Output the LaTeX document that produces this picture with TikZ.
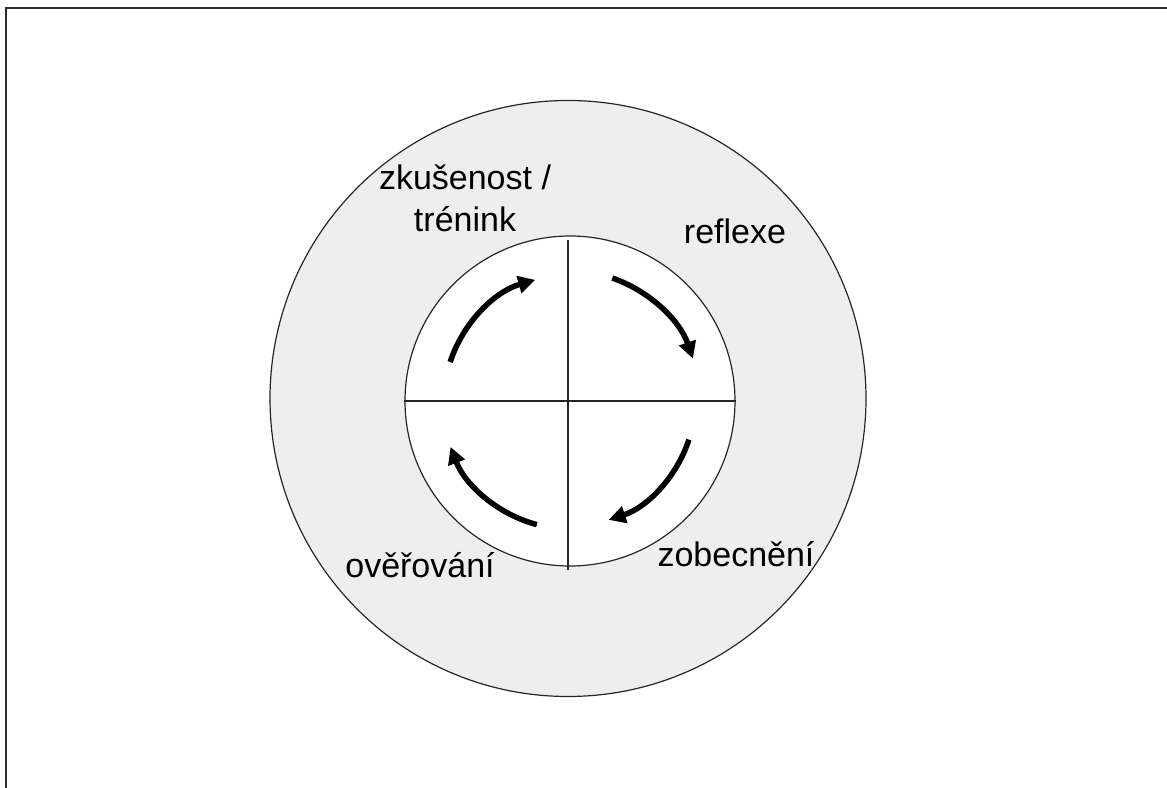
\documentclass[tikz,border=0pt]{standalone}
\usepackage{fontspec}
\setmainfont{Liberation Sans}
\usetikzlibrary{arrows.meta,calc}
\definecolor{ringgray}{RGB}{238,238,238}
\definecolor{framegray}{RGB}{45,45,45}
\begin{document}
\begin{tikzpicture}[x=1pt,y=1pt,
  lbl/.style={font=\fontsize{34}{40}\selectfont, inner sep=0pt, anchor=base},
  cyc/.style={line width=5.5pt, -{Triangle[length=17pt,width=17pt]}},
  ringline/.style={draw=black!85, line width=1.2pt}]
\useasboundingbox (0,0) rectangle (1167,787);
% frame
\draw[framegray, line width=2.5pt] (6,-5) -- (6,779) -- (1175,779);
% outer ring
\node[circle, minimum size=596pt, inner sep=0pt, fill=ringgray, ringline] (outer) at (568,388.5) {};
% inner disc
\node[circle, minimum size=330pt, inner sep=0pt, fill=white, ringline] (inner) at (570,386) {};
\coordinate (c) at (570,386);
\draw[ringline] (568,547) -- (568,217);
\draw[ringline] (inner.west) -- (inner.east);
% cycle arrows
\draw[cyc] ($(c)+(162:126)$) arc[start angle=162, end angle=106, radius=126];
\draw[cyc] ($(c)+(71:130)$) arc[start angle=71, end angle=19, radius=130];
\draw[cyc] ($(c)+(-18:125)$) arc[start angle=-18, end angle=-72, radius=125];
\draw[cyc] ($(c)+(-105:128)$) arc[start angle=-105, end angle=-159, radius=128];
% labels
\node[lbl] (zk) at (465,597) {zkušenost /};
\node[lbl] (tr) at (465,555) {trénink};
\node[lbl] (re) at (735,543) {reflexe};
\node[lbl] (zo) at (736,220) {zobecnění};
\node[lbl] (ov) at (420,209) {ověřování};
\end{tikzpicture}
\end{document}
